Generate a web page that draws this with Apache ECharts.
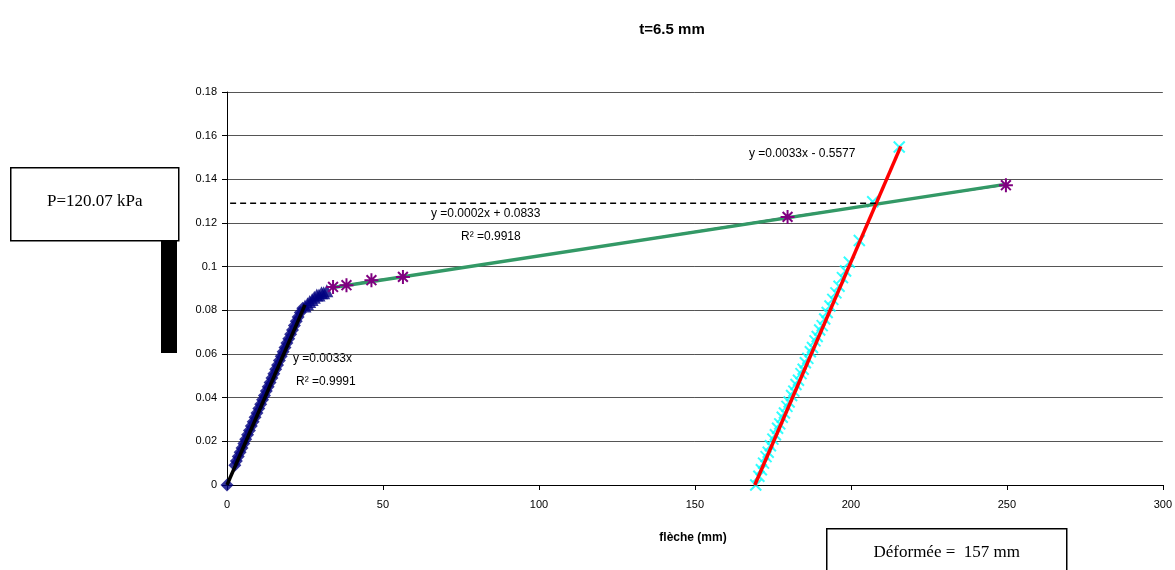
<!DOCTYPE html>
<html>
<head>
<meta charset="utf-8">
<script src="https://cdn.jsdelivr.net/npm/echarts@6/dist/echarts.min.js"></script>
<style>
  html, body { margin: 0; padding: 0; background: #fff; }
  #chart { width: 1175px; height: 570px; }
</style>
</head>
<body>
<div id="chart"></div>
<script>
// valeurs
var titre = 't=6.5 mm';
var xTicks = [0, 50, 100, 150, 200, 250, 300];
var yTicks = [0, 0.02, 0.04, 0.06, 0.08, 0.1, 0.12, 0.14, 0.16, 0.18];

// chargement - partie linéaire (losanges)
var chargeX = [0, 2.5, 3, 3.6, 4.2, 4.8, 5.4, 6, 6.6, 7.2, 7.8, 8.4, 9, 9.6, 10.2, 10.8, 11.4, 12, 12.6, 13.2,
    13.8, 14.4, 15, 15.6, 16.2, 16.8, 17.4, 18, 18.6, 19.2, 19.8, 20.4, 21, 21.6, 22.2, 22.8, 23.5, 24.3];
var chargeY = [0, 0.009, 0.011, 0.013, 0.015, 0.017, 0.019, 0.021, 0.023, 0.025, 0.027, 0.029, 0.031, 0.033,
    0.035, 0.037, 0.039, 0.041, 0.043, 0.045, 0.047, 0.049, 0.051, 0.053, 0.055, 0.057, 0.059, 0.061, 0.063,
    0.065, 0.067, 0.069, 0.071, 0.073, 0.075, 0.077, 0.079, 0.081];
// transition (triangles)
var transX = [25, 25.8, 26.5, 27.3, 28, 28.8, 29.5, 30.3, 31, 32];
var transY = [0.082, 0.083, 0.084, 0.085, 0.086, 0.087, 0.087, 0.088, 0.088, 0.089];
// grandes déformations (étoiles)
var plastX = [34, 38.3, 46.3, 56.4, 179.7, 249.7];
var plastY = [0.0907, 0.0915, 0.0938, 0.0953, 0.1228, 0.1373];
// déchargement (croix)
var dechX = [169.5, 170.5, 171.3, 172, 172.8, 173.5, 174.2, 175, 175.8, 176.5, 177.2, 178, 178.7, 179.5, 180.2,
    181, 181.7, 182.4, 183.2, 184, 184.7, 185.4, 186.2, 187, 187.7, 188.5, 189.2, 190, 190.8, 191.6, 192.4,
    193.3, 194.2, 195.2, 196.2, 197.3, 198.3, 199.5, 202.7, 207, 215.5];
var dechY = [0, 0.004, 0.007, 0.01, 0.013, 0.015, 0.018, 0.021, 0.023, 0.026, 0.028, 0.031, 0.033, 0.036, 0.038,
    0.041, 0.043, 0.046, 0.048, 0.051, 0.053, 0.056, 0.058, 0.061, 0.063, 0.066, 0.068, 0.071, 0.073, 0.076, 0.079,
    0.082, 0.085, 0.088, 0.091, 0.095, 0.098, 0.102, 0.112, 0.1297, 0.1548];

// courbes de tendance (extrémités)
var tendance1 = [[0, 0], [25, 0.0825]];
var tendance2 = [[34, 0.0905], [250, 0.1378]];
var tendance3 = [[169.2, 0], [216, 0.1551]];
var niveauP = [[1, 0.129], [208, 0.129]];

var eq1 = ['y =0.0033x', 'R² =0.9991'];
var eq2 = ['y =0.0002x + 0.0833', 'R² =0.9918'];
var eq3 = 'y =0.0033x - 0.5577';
var boiteP = 'P=120.07 kPa';
var boiteD = 'Déformée =  157 mm';

function paires (xs, ys) {
    var out = [];
    for (var i = 0; i < xs.length; i++) out.push([xs[i], ys[i]]);
    return out;
}

var etoile = 'path://M0 5L10 5M1.5 1.5L8.5 8.5M8.5 1.5L1.5 8.5M5 0L5 10';
var croix = 'path://M0 0L10 10M10 0L0 10';

var myChart = echarts.init(document.getElementById('chart'));
var option = {
    animation: false,
    backgroundColor: '#fff',
    textStyle: { fontFamily: 'Liberation Sans, Arial, sans-serif' },
    title: {
        text: titre,
        left: 667, top: 17,
        textAlign: 'center',
        textStyle: { fontSize: 15, fontWeight: 'bold', color: '#000' }
    },
    grid: { left: 227, right: 11, top: 92, bottom: 85 },
    xAxis: {
        type: 'value', min: 0, max: 300, interval: 50,
        axisLine: { lineStyle: { color: '#000' } },
        axisTick: { length: 5, lineStyle: { color: '#000' } },
        axisLabel: { color: '#000', fontSize: 11, margin: 14 },
        splitLine: { show: false }
    },
    yAxis: {
        type: 'value', min: 0, max: 0.18, interval: 0.02,
        axisLine: { show: true, lineStyle: { color: '#000' } },
        axisTick: { show: true, length: 5, lineStyle: { color: '#000' } },
        axisLabel: { color: '#000', fontSize: 11, margin: 10 },
        splitLine: { lineStyle: { color: '#555', width: 1 } }
    },
    series: [
        {
            name: 'charge', type: 'scatter', data: paires(chargeX, chargeY),
            symbol: 'diamond', symbolSize: 13,
            itemStyle: { color: '#000080' }
        },
        {
            name: 'transition', type: 'scatter', data: paires(transX, transY),
            symbol: 'triangle', symbolSize: 13,
            itemStyle: { color: '#000080' }
        },
        {
            name: 'tendance1', type: 'line', data: tendance1, symbol: 'none',
            lineStyle: { color: '#000', width: 3.5 }
        },
        {
            name: 'plastique', type: 'line', data: paires(plastX, plastY),
            symbol: etoile, symbolSize: 14, showAllSymbol: true,
            lineStyle: { color: '#800080', width: 1 },
            itemStyle: { color: 'none', borderColor: '#800080', borderWidth: 2 }
        },
        {
            name: 'tendance2', type: 'line', data: tendance2, symbol: 'none',
            lineStyle: { color: '#339966', width: 3.5 }
        },
        {
            name: 'decharge', type: 'scatter', data: paires(dechX, dechY),
            symbol: croix, symbolSize: 11,
            itemStyle: { color: 'none', borderColor: '#00ffff', borderWidth: 2 }
        },
        {
            name: 'tendance3', type: 'line', data: tendance3, symbol: 'none',
            lineStyle: { color: '#ff0000', width: 3.5 }
        },
        {
            name: 'niveau', type: 'line', data: niveauP, symbol: 'none',
            lineStyle: { color: '#000', width: 1.5, type: [6, 4] }
        }
    ],
    graphic: [
        { type: 'text', left: 293, top: 353, style: { text: eq1[0], font: '12px Liberation Sans', fill: '#000' } },
        { type: 'text', left: 296, top: 376, style: { text: eq1[1], font: '12px Liberation Sans', fill: '#000' } },
        { type: 'text', left: 431, top: 208, style: { text: eq2[0], font: '12px Liberation Sans', fill: '#000' } },
        { type: 'text', left: 461, top: 231, style: { text: eq2[1], font: '12px Liberation Sans', fill: '#000' } },
        { type: 'text', left: 749, top: 148, style: { text: eq3, font: '12px Liberation Sans', fill: '#000' } },
        // barre noire sous la boîte P
        { type: 'rect', shape: { x: 161, y: 240, width: 16, height: 113 }, style: { fill: '#000' } },
        {
            type: 'group', left: 10, top: 167,
            children: [
                { type: 'rect', shape: { x: 0, y: 0, width: 168, height: 73 }, style: { fill: '#fff', stroke: '#000', lineWidth: 1.5 } },
                { type: 'text', x: 84, y: 34, style: { text: boiteP, font: '17px Liberation Serif', fill: '#000', textAlign: 'center', textVerticalAlign: 'middle' } }
            ]
        },
        {
            type: 'text', x: 693, y: 538,
            style: { text: 'flèche (mm)', font: 'bold 12px Liberation Sans', fill: '#000', textAlign: 'center', textVerticalAlign: 'middle' }
        },
        {
            type: 'group', left: 826, top: 528,
            children: [
                { type: 'rect', shape: { x: 0, y: 0, width: 240, height: 50 }, style: { fill: '#fff', stroke: '#000', lineWidth: 1.5 } },
                { type: 'text', x: 120, y: 24, style: { text: boiteD, font: '17px Liberation Serif', fill: '#000', textAlign: 'center', textVerticalAlign: 'middle' } }
            ]
        }
    ]
};
myChart.setOption(option);
</script>
</body>
</html>
